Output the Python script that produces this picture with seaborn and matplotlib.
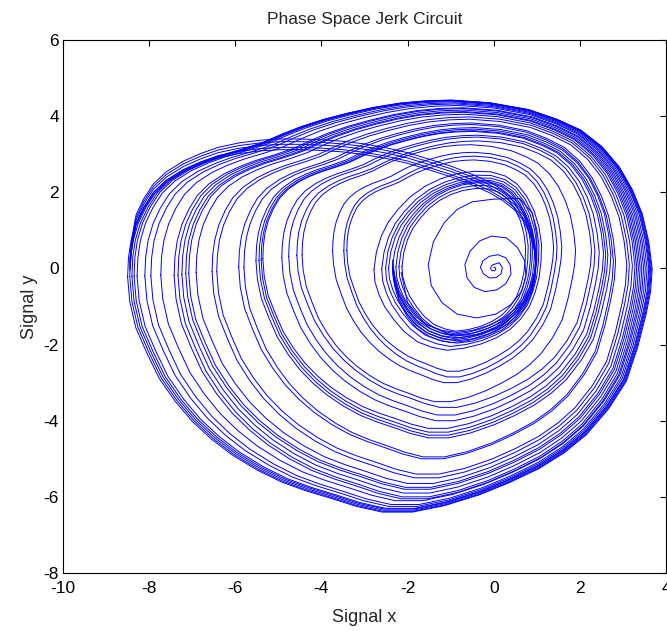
import numpy as np
import pandas as pd
import matplotlib
matplotlib.use("Agg")
import matplotlib.pyplot as plt
import seaborn as sns

# --------------------------------------------------------------------
# data
# --------------------------------------------------------------------

# outermost loop of the attractor (clockwise from the left edge)
outer_x = [-8.50, -8.48, -8.42, -8.30, -8.12, -7.90, -7.60, -7.20, -6.80, -6.40,
           -5.90, -5.40, -4.95, -4.50, -3.95, -3.40, -2.80, -2.20, -1.60, -1.00,
           -0.10, 0.80, 1.45, 2.00, 2.50, 2.90, 3.20, 3.43, 3.58, 3.66,
           3.62, 3.52, 3.32, 3.06, 2.65, 2.13, 1.62, 1.04, 0.35, -0.35,
           -1.15, -1.90, -2.60, -3.20, -3.76, -4.35, -4.92, -5.50, -6.07, -6.55,
           -7.00, -7.40, -7.77, -8.05, -8.31, -8.45, -8.50]
outer_y = [-0.20, 0.30, 0.75, 1.20, 1.62, 2.00, 2.32, 2.60, 2.80, 2.96,
           3.12, 3.30, 3.52, 3.72, 3.92, 4.08, 4.23, 4.34, 4.40, 4.42,
           4.35, 4.17, 3.92, 3.64, 3.20, 2.67, 2.08, 1.45, 0.72, 0.00,
           -0.60, -1.17, -2.05, -2.93, -3.65, -4.33, -4.80, -5.21, -5.58, -5.90,
           -6.18, -6.35, -6.35, -6.20, -6.00, -5.80, -5.57, -5.25, -4.86, -4.45,
           -3.98, -3.45, -2.85, -2.20, -1.53, -0.85, -0.20]

# inner ring around the origin
ring_x = [-2.40, -2.35, -2.25, -2.10, -1.90, -1.65, -1.35, -1.03, -0.70, -0.35,
          0.00, 0.30, 0.55, 0.75, 0.90, 1.00, 1.05, 1.04, 1.00, 0.92,
          0.80, 0.62, 0.40, 0.12, -0.20, -0.55, -0.90, -1.20, -1.50, -1.78,
          -2.00, -2.18, -2.30, -2.38, -2.40]
ring_y = [0.00, 0.42, 0.80, 1.15, 1.45, 1.75, 2.00, 2.18, 2.30, 2.36,
          2.35, 2.25, 2.05, 1.75, 1.40, 1.00, 0.60, 0.20, -0.20, -0.55,
          -0.90, -1.20, -1.45, -1.65, -1.80, -1.90, -1.95, -1.88, -1.75, -1.50,
          -1.20, -0.90, -0.60, -0.30, 0.00]

# ring loops: left / right crossing of y=0, top, bottom
ring_left = [-2.13, -2.20, -2.27, -2.35, -2.44, -2.51, -2.60, -2.78]
ring_right = [0.74, 0.80, 0.86, 0.90, 0.95, 1.00, 1.05, 1.11]
ring_top = [2.10, 2.18, 2.25, 2.28, 2.32, 2.38, 2.45, 2.55]
ring_bottom = [-1.65, -1.72, -1.78, -1.84, -1.88, -1.95, -2.05, -2.15]

# larger loops
loop_left = [-3.41, -3.48, -3.74, -4.45, -4.57, -4.76, -4.92, -5.36, -5.40, -5.45,
             -5.52, -5.80, -5.92, -6.43, -6.54, -6.91, -7.08, -7.15, -7.24, -7.33,
             -7.42, -7.73, -7.96, -8.10, -8.28, -8.35, -8.40, -8.45, -8.50]
loop_right = [1.39, 1.47, 1.58, 1.90, 2.27, 2.35, 2.45, 2.55, 2.60, 2.65,
              2.72, 2.78, 2.83, 3.09, 3.15, 3.22, 3.28, 3.32, 3.36, 3.40,
              3.44, 3.48, 3.52, 3.56, 3.60, 3.62, 3.64, 3.66, 3.68]
loop_top = [2.85, 2.95, 3.05, 3.25, 3.35, 3.45, 3.50, 3.60, 3.62, 3.66,
            3.70, 3.78, 3.82, 3.92, 3.98, 4.05, 4.10, 4.12, 4.16, 4.20,
            4.22, 4.28, 4.32, 4.35, 4.38, 4.40, 4.41, 4.42, 4.42]
loop_bottom = [-2.70, -2.85, -3.00, -3.50, -3.65, -3.85, -4.00, -4.20, -4.30, -4.38,
               -4.45, -4.95, -5.00, -5.40, -5.50, -5.65, -5.75, -5.80, -5.90, -6.00,
               -6.05, -6.10, -6.20, -6.25, -6.30, -6.32, -6.35, -6.38, -6.40]

# return path from the far left back to the ring
reinj_x = [-8.45, -8.40, -8.30, -8.12, -7.90, -7.60, -7.20, -6.80, -6.40, -5.90,
           -5.40, -4.95, -4.50, -4.00, -3.50, -3.00, -2.50, -2.00, -1.50, -1.00,
           -0.50, -0.10, 0.20, 0.48, 0.70, 0.85, 0.95, 0.98, 0.95, 0.85,
           0.70, 0.48, 0.20, -0.15, -0.50, -0.85, -1.20, -1.50, -1.80, -2.02,
           -2.20, -2.30, -2.35]
reinj_y = [0.00, 0.60, 1.20, 1.62, 2.00, 2.32, 2.60, 2.80, 2.96, 3.08,
           3.15, 3.18, 3.18, 3.16, 3.12, 3.05, 2.95, 2.82, 2.65, 2.47,
           2.25, 2.05, 1.85, 1.60, 1.30, 0.92, 0.50, 0.10, -0.30, -0.68,
           -1.00, -1.30, -1.55, -1.73, -1.85, -1.90, -1.85, -1.72, -1.50, -1.18,
           -0.80, -0.40, 0.00]
reinj_shift = [0.00, 0.08, 0.15, -0.06, 0.22]

# start-up spiral from the origin
spiral_x = [0.00, 0.04, 0.05, 0.02, -0.04, -0.07, -0.06, -0.01,
            0.13, 0.20, 0.17, 0.06, -0.10, -0.24, -0.31, -0.25, -0.10,
            0.10, 0.28, 0.38, 0.40, 0.28, 0.08, -0.20, -0.45, -0.62, -0.67,
            -0.55, -0.33, -0.05,
            0.30, 0.55, 0.72, 0.75, 0.65, 0.40, 0.05, -0.40, -0.85, -1.20,
            -1.45, -1.52, -1.40, -1.15, -0.85, -0.50, 0.00, 0.60, 0.90, 1.00,
            1.00, 0.90, 0.60, 0.15, -0.40, -1.00, -1.60, -2.00, -2.15]
spiral_y = [0.03, 0.02, -0.02, -0.06, -0.06, -0.01, 0.06, 0.10,
            0.15, 0.02, -0.14, -0.24, -0.25, -0.14, 0.03, 0.20, 0.32,
            0.36, 0.28, 0.10, -0.15, -0.40, -0.56, -0.61, -0.50, -0.25, 0.10,
            0.45, 0.72, 0.85,
            0.80, 0.55, 0.20, -0.20, -0.60, -0.95, -1.20, -1.30, -1.20, -0.90,
            -0.45, 0.10, 0.70, 1.20, 1.55, 1.75, 1.82, 1.84, 1.45, 0.90,
            0.20, -0.50, -1.10, -1.55, -1.75, -1.75, -1.45, -0.90, -0.10]


def fit(tx, ty, left, right, top, bottom):
    tx = np.asarray(tx)
    ty = np.asarray(ty)
    x = left + (tx - tx.min()) / (tx.max() - tx.min()) * (right - left)
    y = bottom + (ty - ty.min()) / (ty.max() - ty.min()) * (top - bottom)
    return x, y


parts = [pd.DataFrame({"x": spiral_x, "y": spiral_y, "path": 0})]
n = 1
for l, r, t, b in zip(ring_left, ring_right, ring_top, ring_bottom):
    x, y = fit(ring_x, ring_y, l, r, t, b)
    parts.append(pd.DataFrame({"x": x, "y": y, "path": n}))
    n += 1
for l, r, t, b in zip(loop_left, loop_right, loop_top, loop_bottom):
    x, y = fit(outer_x, outer_y, l, r, t, b)
    parts.append(pd.DataFrame({"x": x, "y": y, "path": n}))
    n += 1
for s in reinj_shift:
    parts.append(pd.DataFrame({"x": reinj_x, "y": np.asarray(reinj_y) + s, "path": n}))
    n += 1
df = pd.concat(parts, ignore_index=True)

# --------------------------------------------------------------------
# plot
# --------------------------------------------------------------------
sns.set_style("white")
plt.rcParams["font.family"] = ["Liberation Sans", "DejaVu Sans"]
plt.rcParams["axes.unicode_minus"] = False

fig = plt.figure(figsize=(6.67, 6.31), dpi=100)
ax = fig.add_axes([63 / 667, 58 / 631, 603 / 667, 533 / 631])

sns.lineplot(data=df, x="x", y="y", units="path", estimator=None, sort=False,
             color="#0000ff", lw=0.7, ax=ax)

ax.set_xlim(-10, 4)
ax.set_ylim(-8, 6)
ax.set_xticks(range(-10, 5, 2))
ax.set_yticks(range(-8, 7, 2))
ax.tick_params(direction="in", length=4, width=0.8, labelsize=12.5,
               top=True, right=True, colors="black")
ax.tick_params(axis="x", pad=6)
ax.tick_params(axis="y", pad=3)
for sp in ax.spines.values():
    sp.set_color("black")
    sp.set_linewidth(0.8)

ax.set_title("Phase Space Jerk Circuit", fontsize=12.5, pad=11.5)
ax.set_xlabel("Signal x", fontsize=13, labelpad=9)
ax.set_ylabel("Signal y", fontsize=13, labelpad=4)

fig.savefig("out.png", dpi=100)
